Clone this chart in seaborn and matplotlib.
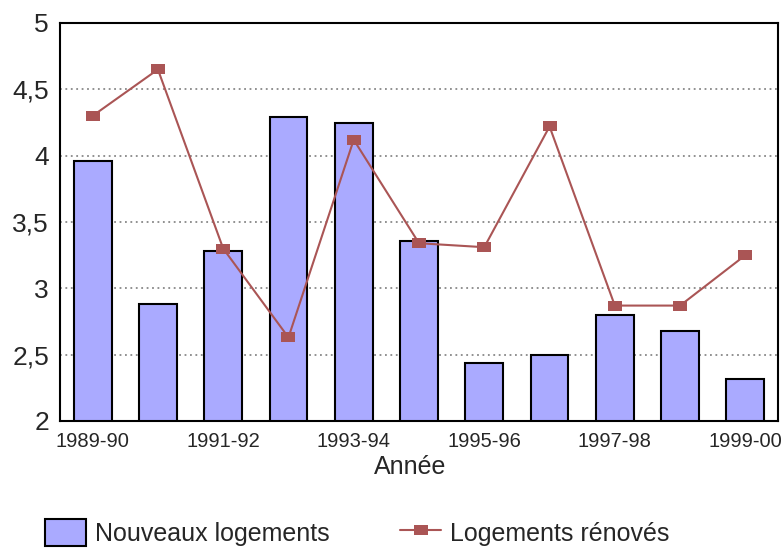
import matplotlib
matplotlib.use('Agg')
import matplotlib.pyplot as plt
from matplotlib.lines import Line2D
from matplotlib.patches import Patch
from matplotlib.ticker import FuncFormatter, MultipleLocator
import seaborn as sns

# valeurs
annees = ['1989-90', '1990-91', '1991-92', '1992-93', '1993-94', '1994-95',
          '1995-96', '1996-97', '1997-98', '1998-99', '1999-00']
nouveaux = [3.96, 2.88, 3.28, 4.29, 4.25, 3.36, 2.44, 2.50, 2.80, 2.68, 2.32]
renoves = [4.30, 4.65, 3.30, 2.63, 4.12, 3.34, 3.31, 4.22, 2.87, 2.87, 3.25]

sns.set_style('white')
plt.rcParams['font.family'] = ['Liberation Sans', 'DejaVu Sans']

bar_color = '#aaaaff'
line_color = '#aa5555'
# marqueur rectangulaire un peu plus large que haut
rect = [(-1.4, -1), (1.4, -1), (1.4, 1), (-1.4, 1), (-1.4, -1)]

fig = plt.figure(figsize=(7.83, 5.48), dpi=100)
ax = fig.add_axes([60 / 783, 1 - 421 / 548, 718 / 783, 398 / 548])

sns.barplot(x=annees, y=nouveaux, color=bar_color, saturation=1, width=0.58,
            edgecolor='black', linewidth=1.5, ax=ax, zorder=2)
sns.lineplot(x=annees, y=renoves, color=line_color, linewidth=1.5, marker=rect,
             markersize=10.5, markeredgewidth=0, sort=False, ax=ax, zorder=3)

ax.set_ylim(2, 5)
ax.set_xlim(-0.5, len(annees) - 0.5)
ax.yaxis.set_major_locator(MultipleLocator(0.5))
ax.yaxis.set_major_formatter(FuncFormatter(lambda v, _: f'{v:g}'.replace('.', ',')))
ax.yaxis.grid(True, linestyle=(0, (1, 2)), color='#888888', linewidth=1.3)
ax.set_axisbelow(True)

ax.set_xticklabels([a if i % 2 == 0 else '' for i, a in enumerate(annees)])
ax.tick_params(axis='x', length=3.6, color='#888888', width=1, labelsize=14.5, pad=4)
ax.tick_params(axis='y', length=0, labelsize=19, pad=8)
ax.set_xlabel('Année', fontsize=18, labelpad=3)
ax.xaxis.set_label_coords(0.487, -0.085)
ax.set_ylabel('')

for s in ax.spines.values():
    s.set_color('black')
    s.set_linewidth(1.5)
    s.set_visible(True)

handles = [Patch(facecolor=bar_color, edgecolor='black', linewidth=1.5),
           Line2D([], [], color=line_color, linewidth=1.5, marker=rect,
                  markersize=10.5, markeredgewidth=0)]
fig.legend(handles, ['Nouveaux logements', 'Logements rénovés'],
           loc='upper left', bbox_to_anchor=(45 / 783, 1 - 519 / 548), ncol=2,
           frameon=False, fontsize=18, handlelength=1.65, handleheight=1.3,
           handletextpad=0.36, columnspacing=2.8, borderpad=0, borderaxespad=0)

fig.savefig('out.png', dpi=100)
